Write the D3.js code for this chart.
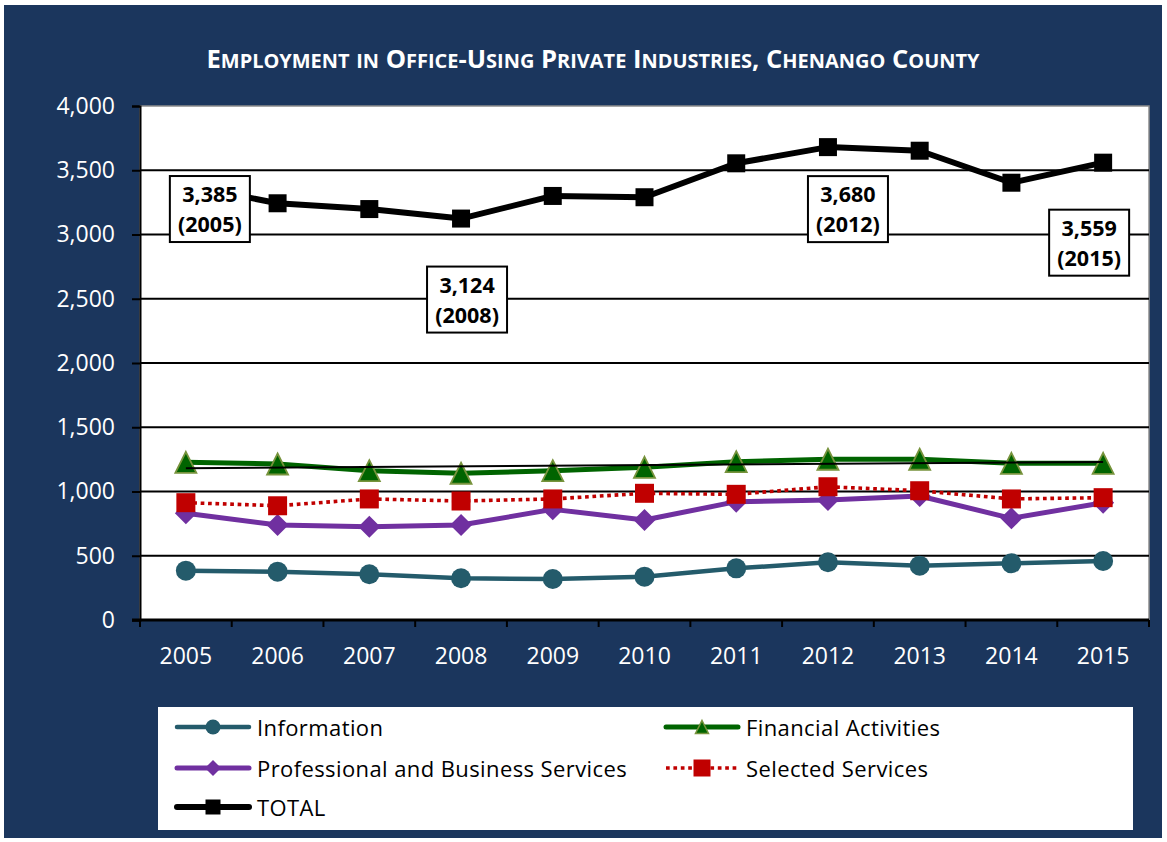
<!DOCTYPE html>
<html>
<head>
<meta charset="utf-8">
<script src="https://cdn.jsdelivr.net/npm/d3@7"></script>
<style>
  body { margin: 0; background: #ffffff; }
  svg { display: block; }
  text { font-family: "Open Sans", "Liberation Sans", sans-serif; }
</style>
</head>
<body>
<svg id="chart" width="1167" height="842"></svg>
<script>
// Employment by office-using industry, Chenango County
const years = [2005, 2006, 2007, 2008, 2009, 2010, 2011, 2012, 2013, 2014, 2015];
const information          = [384, 376, 356, 325, 319, 337, 402, 449, 423, 441, 459];
const financialActivities  = [1227, 1214, 1162, 1142, 1162, 1188, 1232, 1251, 1251, 1219, 1219];
const professionalBusiness = [830, 739, 726, 739, 861, 778, 921, 934, 965, 791, 913];
const selectedServices     = [913, 889, 942, 926, 942, 986, 978, 1037, 1006, 942, 952];
const total                = [3385, 3243, 3198, 3124, 3300, 3290, 3554, 3680, 3652, 3403, 3559];
const yTicks = [0, 500, 1000, 1500, 2000, 2500, 3000, 3500, 4000];
const calloutYears = [2005, 2008, 2012, 2015];
const titleText = "Employment in Office-Using Private Industries, Chenango County";

const svg = d3.select("#chart");
const W = 1167, H = 842;
const plot = { left: 140, right: 1149, top: 106, bottom: 620 };
const navy = "#1b365d";

// background panel
svg.append("rect").attr("x", 4).attr("y", 5).attr("width", W - 9).attr("height", H - 9).attr("fill", navy);

// title in small caps: lowercase runs are set as smaller capitals
const title = svg.append("text")
  .attr("x", 593).attr("y", 68)
  .attr("text-anchor", "middle")
  .attr("fill", "#ffffff")
  .attr("font-weight", "bold")
  .attr("textLength", 773)
  .attr("lengthAdjust", "spacingAndGlyphs");
(titleText.match(/[a-z]+|[^a-z]+/g) || []).forEach(run => {
  const lower = /^[a-z]/.test(run);
  title.append("tspan")
    .attr("font-size", lower ? 19.5 : 25)
    .text(run.toUpperCase());
});

// scales
const x = d3.scaleBand().domain(years).range([plot.left, plot.right]);
const y = d3.scaleLinear().domain([0, 4000]).range([plot.bottom, plot.top]);
const cx = d => x(d) + x.bandwidth() / 2;

// plot area
svg.append("rect")
  .attr("x", plot.left).attr("y", plot.top)
  .attr("width", plot.right - plot.left).attr("height", plot.bottom - plot.top)
  .attr("fill", "#ffffff").attr("stroke", "#8c8c8c").attr("stroke-width", 1.5);

// gridlines
svg.append("g").selectAll("line").data(yTicks.filter(t => t > 0 && t < 4000)).join("line")
  .attr("x1", plot.left).attr("x2", plot.right)
  .attr("y1", d => y(d)).attr("y2", d => y(d))
  .attr("stroke", "#000").attr("stroke-width", 2);

// y axis
const yAxis = svg.append("g").attr("transform", `translate(${plot.left},0)`)
  .call(d3.axisLeft(y).tickValues(yTicks).tickSize(8).tickPadding(17).tickFormat(d3.format(",")));
yAxis.select(".domain").attr("stroke", "#000").attr("stroke-width", 2);
yAxis.selectAll(".tick line").attr("stroke", "#000").attr("stroke-width", 2);
yAxis.selectAll(".tick text").attr("fill", "#ffffff").attr("font-size", 23)
  .style("font-family", "'Open Sans', sans-serif");

// x axis: labels centred in bands, tick marks on band edges
const xAxis = svg.append("g").attr("transform", `translate(0,${plot.bottom})`)
  .call(d3.axisBottom(x).tickSize(0).tickPadding(0));
xAxis.select(".domain").remove();
xAxis.selectAll(".tick text").attr("fill", "#ffffff").attr("font-size", 23)
  .attr("dy", null).attr("y", 44)
  .style("font-family", "'Open Sans', sans-serif");
const edges = years.map(d => x(d)).concat([x(years[years.length - 1]) + x.bandwidth()]);
svg.append("g").selectAll("line").data(edges).join("line")
  .attr("x1", d => d).attr("x2", d => d)
  .attr("y1", plot.bottom).attr("y2", plot.bottom + 7)
  .attr("stroke", "#000").attr("stroke-width", 2);
svg.append("line")
  .attr("x1", plot.left - 8).attr("x2", plot.right)
  .attr("y1", plot.bottom).attr("y2", plot.bottom)
  .attr("stroke", "#000").attr("stroke-width", 3);

// marker shapes, s = overall size in px
const shapes = {
  circle: s => `M${s/2},0A${s/2},${s/2} 0 1,1 ${-s/2},0A${s/2},${s/2} 0 1,1 ${s/2},0Z`,
  diamond: s => `M0,${-s/2}L${s/2},0L0,${s/2}L${-s/2},0Z`,
  triangle: s => `M0,${-s/2}L${s/2},${s/2}L${-s/2},${s/2}Z`,
  square: s => `M${-s/2},${-s/2}H${s/2}V${s/2}H${-s/2}Z`
};

const series = [
  { name: "Information", values: information, color: "#245b6b", width: 4.5, dash: null,
    shape: "circle", size: 20, legendSize: 15, fill: "#245b6b", stroke: "none" },
  { name: "Financial Activities", values: financialActivities, color: "#006400", width: 5, dash: null,
    shape: "triangle", size: 21, legendSize: 13, fill: "#006400", stroke: "#77933c" },
  { name: "Professional and Business Services", values: professionalBusiness, color: "#7030a0", width: 5, dash: null,
    shape: "diamond", size: 22, legendSize: 16, fill: "#7030a0", stroke: "none" },
  { name: "Selected Services", values: selectedServices, color: "#c00000", width: 3.6, dash: "3.7,3.7",
    shape: "square", size: 19, legendSize: 17, fill: "#c00000", stroke: "none" },
  { name: "TOTAL", values: total, color: "#000000", width: 6, dash: null,
    shape: "square", size: 18, legendSize: 15, fill: "#000000", stroke: "none" }
];

const line = d3.line().x(d => cx(d.year)).y(d => y(d.value));
const rows = s => years.map((yr, i) => ({ year: yr, value: s.values[i] }));

const seriesG = svg.append("g");
series.forEach(s => {
  const g = seriesG.append("g");
  g.append("path").datum(rows(s)).attr("d", line)
    .attr("fill", "none").attr("stroke", s.color).attr("stroke-width", s.width)
    .attr("stroke-dasharray", s.dash).attr("stroke-linejoin", "round");
  g.selectAll("path.m").data(rows(s)).join("path").attr("class", "m")
    .attr("transform", d => `translate(${cx(d.year)},${y(d.value)})`)
    .attr("d", shapes[s.shape](s.size))
    .attr("fill", s.fill).attr("stroke", s.stroke).attr("stroke-width", 1.8);

  // linear trend for Financial Activities
  if (s.name === "Financial Activities") {
    const n = s.values.length;
    const mx = d3.mean(d3.range(n)), my = d3.mean(s.values);
    const slope = d3.sum(d3.range(n), i => (i - mx) * (s.values[i] - my)) /
                  d3.sum(d3.range(n), i => (i - mx) * (i - mx));
    const icpt = my - slope * mx;
    g.append("line")
      .attr("x1", cx(years[0])).attr("x2", cx(years[n - 1]))
      .attr("y1", y(icpt)).attr("y2", y(icpt + slope * (n - 1)))
      .attr("stroke", "#000").attr("stroke-width", 2);
  }
});

// callouts on the TOTAL series
const calloutOffsets = { 2005: [24, 24], 2008: [6, 81], 2012: [20, 62], 2015: [-14, 80] };
const fmt = d3.format(",");
const callouts = calloutYears.map(yr => ({ year: yr, value: total[years.indexOf(yr)] }));
const cg = svg.append("g").selectAll("g").data(callouts).join("g")
  .attr("transform", d => {
    const o = calloutOffsets[d.year];
    return `translate(${cx(d.year) + o[0]},${y(d.value) + o[1]})`;
  });
cg.append("rect").attr("x", -40).attr("y", -33).attr("width", 80).attr("height", 66)
  .attr("fill", "#ffffff").attr("stroke", "#000").attr("stroke-width", 2);
cg.append("text").attr("text-anchor", "middle").attr("y", -7)
  .attr("font-size", 21.5).attr("font-weight", "bold").attr("fill", "#000")
  .text(d => fmt(d.value));
cg.append("text").attr("text-anchor", "middle").attr("y", 23)
  .attr("font-size", 21.5).attr("font-weight", "bold").attr("fill", "#000")
  .text(d => `(${d.year})`);

// legend
svg.append("rect").attr("x", 158).attr("y", 707).attr("width", 975).attr("height", 123).attr("fill", "#ffffff");
const legendPos = [
  [177, 727], [666, 727], [177, 768], [666, 768], [177, 807]
];
series.forEach((s, i) => {
  const [lx, ly] = legendPos[i];
  const g = svg.append("g").attr("transform", `translate(${lx},${ly})`);
  g.append("line").attr("x1", 0).attr("x2", 72).attr("y1", 0).attr("y2", 0)
    .attr("stroke", s.color).attr("stroke-width", s.width)
    .attr("stroke-dasharray", s.dash).attr("stroke-linecap", s.dash ? "butt" : "round");
  g.append("path").attr("transform", "translate(36,0)").attr("d", shapes[s.shape](s.legendSize))
    .attr("fill", s.fill).attr("stroke", s.stroke).attr("stroke-width", 1.5);
  g.append("text").attr("x", 80).attr("y", 9).attr("font-size", 22).attr("fill", "#000")
    .attr("letter-spacing", 0.4)
    .text(s.name);
});
</script>
</body>
</html>
